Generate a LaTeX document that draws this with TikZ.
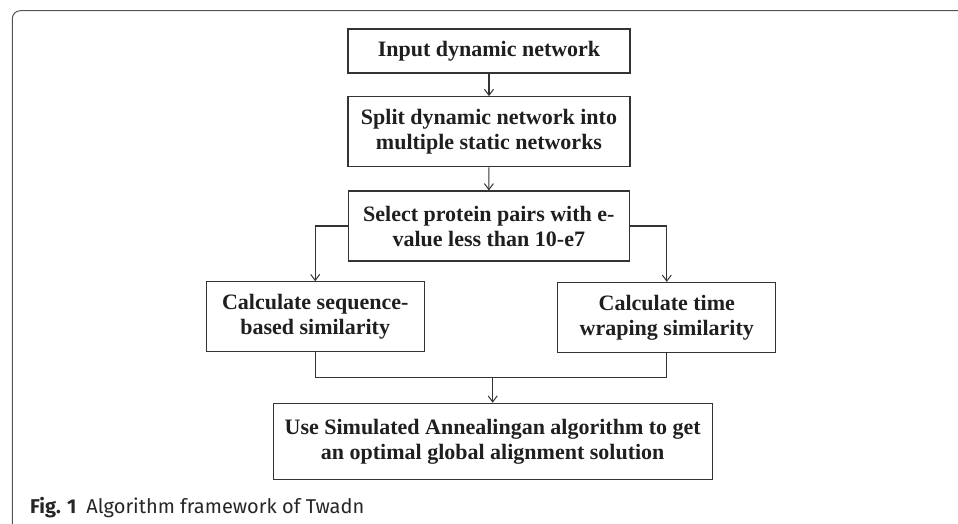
\documentclass[tikz,border=0pt]{standalone}
\usepackage{fontspec}
\setmainfont{Liberation Serif}
\newfontfamily\capfont{Fira Sans}
\usetikzlibrary{arrows.meta}
\definecolor{boxline}{HTML}{333333}
\definecolor{framegray}{HTML}{555555}
\tikzset{
  stepbox/.style={draw=boxline, line width=1.2pt, align=center, inner sep=0pt,
    font=\fontsize{22}{25}\selectfont\bfseries, text=black!88},
  link/.style={draw=boxline, line width=1.1pt},
  arr/.style={link, -{Straight Barb[length=6pt,width=9pt,line width=1pt]}}
}
\begin{document}
\begin{tikzpicture}[x=1pt,y=-1pt]
\useasboundingbox (0,0) rectangle (958,523);
\draw[framegray, line width=1pt, rounded corners=8pt] (12.3,530) -- (12.3,10.7) -- (965,10.7);
\node[stepbox, minimum width=282pt, minimum height=44pt] (b1) at (489,51) {Input dynamic network};
\node[stepbox, minimum width=282pt, minimum height=70pt] (b2) at (489,131.7) {Split dynamic network into\\multiple static networks};
\node[stepbox, minimum width=281pt, minimum height=70pt] (b3) at (488.8,226) {Select protein pairs with e-\\value less than 10-e7};
\node[stepbox, minimum width=218pt, minimum height=70pt] (b4) at (315.2,316.8) {Calculate sequence-\\based similarity};
\node[stepbox, minimum width=218pt, minimum height=70pt] (b5) at (666.8,317.5) {Calculate time\\wraping similarity};
\node[stepbox, minimum width=439pt, minimum height=76pt] (b6) at (492.7,441.3) {Use Simulated Annealingan algorithm to get\\an optimal global alignment solution};
\coordinate (j) at (492.7,377.7);
\draw[arr] (b1) -- (b2);
\draw[arr] (b2) -- (b3);
\draw[arr] (b3.west) -| (b4.north);
\draw[arr] (b3.east) -| (b5.north);
\draw[link] (b4.south) |- (j);
\draw[link] (b5.south) |- (j);
\draw[arr] (j) -- (b6.north);
\node[anchor=base west, inner sep=0pt, font=\capfont\fontsize{20}{23}\selectfont, text=black!85] (cap) at (30,513) {\textbf{Fig. 1}\hspace{10pt}Algorithm framework of Twadn};
\end{tikzpicture}
\end{document}
